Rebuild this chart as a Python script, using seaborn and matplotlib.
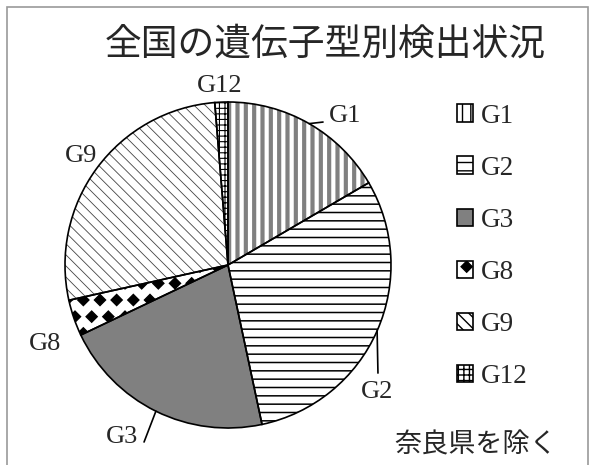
import matplotlib
matplotlib.use("Agg")
import matplotlib.pyplot as plt
import matplotlib.hatch as mhatch
from matplotlib.path import Path
from matplotlib.patches import Patch, Rectangle
import numpy as np
import seaborn as sns

# data (share of detections, %)
genotypes = ["G1", "G2", "G3", "G8", "G9", "G12"]
shares    = [16.6, 30.1, 21.3, 3.6, 27.2, 1.3]
title     = "全国の遺伝子型別検出状況"
note      = "奈良県を除く"

# fill style per slice: face colour, hatch, hatch colour, hatch line width
faces   = ["white", "white", "#808080", "white", "white", "white"]
hatches = ["||", "--", "", "*", "\\\\\\", "+++"]
hcolors = ["#808080", "black", "black", "black", "#444444", "black"]
hwidths = [3.0, 1.1, 1.0, 1.0, 0.6, 0.8]

# label placement (pie radius = 1), baseline anchored
label_xy = {"G1": (0.62, 0.877), "G2": (0.914, -0.816), "G3": (-0.650, -1.092),
            "G8": (-1.123, -0.521), "G9": (-0.902, 0.632), "G12": (-0.049, 1.061)}
label_ha = {"G1": "left", "G2": "center", "G3": "center",
            "G8": "center", "G9": "center", "G12": "center"}
leader_end = {"G1": (0.583, 0.877), "G2": (0.920, -0.663), "G3": (-0.515, -1.086)}


# the G8 slice uses filled diamonds, so swap the star shape of the '*' hatch
def _diamond_init(self, hatch, density):
    self.num_rows = hatch.count("*") * density
    p = Path.unit_regular_polygon(4)
    self.shape_vertices = p.vertices
    self.shape_codes = p.codes
    mhatch.Shapes.__init__(self, hatch, density)


mhatch.Stars.__init__ = _diamond_init

sns.set_theme(style="white")
plt.rcParams["font.family"] = ["Liberation Serif", "DejaVu Serif"]
jp = ["Noto Sans CJK JP", "DejaVu Sans"]

W, H = 596, 465
fig = plt.figure(figsize=(W / 100, H / 100), dpi=100)
cx, cy, r = 228, 265, 163
ax = fig.add_axes([(cx - r) / W, (H - cy - r) / H, 2 * r / W, 2 * r / H])

# hatched fill layer
wedges, _ = ax.pie(shares, startangle=90, counterclock=False,
                   colors=faces, wedgeprops=dict(linewidth=0))
for w, h, hc, hw in zip(wedges, hatches, hcolors, hwidths):
    w.set_hatch(h)
    w.set_edgecolor(hc)
    w.set_linewidth(0)
    if hasattr(w, "set_hatch_linewidth"):
        w.set_hatch_linewidth(hw)
# outline layer
ax.pie(shares, startangle=90, counterclock=False,
       wedgeprops=dict(fill=False, edgecolor="black", linewidth=1.2))
ax.set_xlim(-1, 1)
ax.set_ylim(-1, 1)
ax.set_aspect("auto")
ax.axis("off")

for w, g in zip(wedges, genotypes):
    mid = np.deg2rad((w.theta1 + w.theta2) / 2)
    ex, ey = np.cos(mid), np.sin(mid)
    if g in leader_end:
        lx, ly = leader_end[g]
        ax.plot([ex, lx], [ey, ly], color="black", lw=1.2, clip_on=False)
    tx, ty = label_xy[g]
    ax.text(tx, ty, g, ha=label_ha[g], va="baseline", fontsize=19, clip_on=False)

handles = [Patch(facecolor=f, hatch=h, edgecolor="black", linewidth=1.2)
           for f, h in zip(faces, hatches)]
fig.legend(handles, genotypes, loc="upper left",
           bbox_to_anchor=(443 / W, 1 - 90 / H), bbox_transform=fig.transFigure,
           frameon=False, fontsize=19.5, borderpad=0, handlelength=0.6,
           handleheight=0.6, handletextpad=0.3, labelspacing=1.0)

fig.text(325 / W, 1 - 44 / H, title, ha="center", va="center",
         fontsize=26.5, family=jp)
fig.text(476 / W, 1 - 445 / H, note, ha="center", va="center",
         fontsize=19.5, family=jp)

fig.add_artist(Rectangle((7 / W, -0.05), (588 - 7) / W, 1.05 - 7 / H,
                         transform=fig.transFigure, fill=False,
                         edgecolor="#9a9a9a", linewidth=1.2))

fig.savefig("out.png", dpi=100)
